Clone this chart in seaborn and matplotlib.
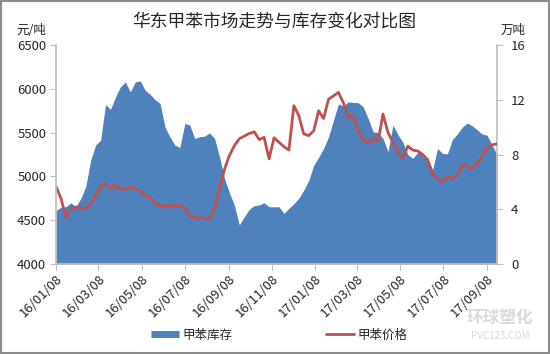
import matplotlib
matplotlib.use("Agg")
import matplotlib.pyplot as plt
import matplotlib.dates as mdates
from matplotlib.lines import Line2D
from matplotlib.patches import Rectangle
import seaborn as sns
import pandas as pd
import numpy as np

# ---------------- data ----------------
start_date = "2016-01-08"
n_weeks = 90
inventory = [3.9, 4.15, 4.18, 4.47, 4.18, 4.79, 5.64, 7.59, 8.69, 9.05,
             11.65, 11.29, 12.2, 12.94, 13.3, 12.58, 13.3, 13.38, 12.7, 12.4,
             12.0, 11.73, 10.0, 9.29, 8.69, 8.52, 10.27, 10.15, 9.17, 9.3,
             9.34, 9.58, 9.17, 7.83, 6.25, 5.2, 4.3, 2.85, 3.45, 4.0,
             4.26, 4.31, 4.47, 4.18, 4.18, 4.18, 3.70, 4.07, 4.4, 4.8,
             5.4, 6.1, 7.2, 7.8, 8.44, 9.29, 10.5, 11.7, 11.55, 11.85,
             11.8, 11.78, 11.48, 10.63, 9.66, 9.6, 9.17, 8.2, 10.15, 9.45,
             8.9, 8.0, 7.72, 8.15, 8.0, 7.59, 6.9, 8.44, 8.08, 8.05,
             9.1, 9.5, 10.0, 10.3, 10.1, 9.8, 9.5, 9.4, 8.7, 8.0]
price = [4886, 4750, 4530, 4620, 4651, 4640, 4633, 4680, 4790, 4890,
         4917, 4860, 4898, 4860, 4850, 4886, 4860, 4830, 4780, 4760,
         4690, 4660, 4665, 4665, 4665, 4665, 4640, 4550, 4530, 4525,
         4520, 4515, 4640, 4860, 5080, 5240, 5350, 5430, 5460, 5490,
         5510, 5420, 5447, 5200, 5440, 5390, 5340, 5300, 5807, 5693,
         5485, 5466, 5520, 5750, 5660, 5880, 5920, 5958, 5840, 5670,
         5693, 5520, 5420, 5380, 5440, 5400, 5712, 5500, 5390, 5280,
         5201, 5345, 5300, 5290, 5250, 5190, 5030, 4970, 4936, 4992,
         4975, 5010, 5130, 5110, 5087, 5150, 5230, 5330, 5360, 5371]
tick_dates = ["2016-01-08", "2016-03-08", "2016-05-08", "2016-07-08",
              "2016-09-08", "2016-11-08", "2017-01-08", "2017-03-08",
              "2017-05-08", "2017-07-08", "2017-09-08"]
left_ticks = [4000, 4500, 5000, 5500, 6000, 6500]
right_ticks = [0, 4, 8, 12, 16]
title = "华东甲苯市场走势与库存变化对比图"
left_unit = "元/吨"
right_unit = "万吨"
inv_label = "甲苯库存"
price_label = "甲苯价格"

dates = pd.date_range(start_date, periods=n_weeks, freq="7D")
df = pd.DataFrame({"date": dates, "inventory": inventory, "price": price})

# ---------------- style ----------------
sns.set_theme(style="white")
plt.rcParams["font.family"] = ["Noto Sans CJK SC", "DejaVu Sans"]
plt.rcParams["axes.unicode_minus"] = False

BLUE = "#4F81BD"
RED = "#C0504D"
GREY = "#BFBFBF"
TXT = "#262626"

fig = plt.figure(figsize=(5.5, 3.54), dpi=100)
ax = fig.add_axes([56 / 550, 1 - 264 / 354, (497 - 56) / 550, (264 - 45) / 354])
ax2 = ax.twinx()

# inventory area (right axis)
ax2.fill_between(df["date"], 0, df["inventory"], color=BLUE, linewidth=0)
ax2.set_ylim(0, 16)
ax2.set_yticks(right_ticks)

# price line (left axis), on top
ax.set_zorder(ax2.get_zorder() + 1)
ax.patch.set_visible(False)
sns.lineplot(data=df, x="date", y="price", ax=ax, color=RED, linewidth=2.0, legend=False)
ax.set_ylim(4000, 6500)
ax.set_yticks(left_ticks)
ax.set_xlim(dates[0], dates[-1])
ax.set_xticks(pd.to_datetime(tick_dates))
ax.xaxis.set_major_formatter(mdates.DateFormatter("%y/%m/%d"))
ax.set_xlabel("")
ax.set_ylabel("")
ax2.set_ylabel("")

for a in (ax, ax2):
    for s in a.spines.values():
        s.set_visible(False)
ax.spines["left"].set_visible(True)
ax.spines["left"].set_color(GREY)
ax.spines["bottom"].set_visible(True)
ax.spines["bottom"].set_color(GREY)
ax2.spines["right"].set_visible(True)
ax2.spines["right"].set_color(GREY)

ax.tick_params(axis="y", which="major", left=True, length=4, width=0.8, color=GREY,
               labelsize=9.5, labelcolor=TXT, pad=3)
ax.tick_params(axis="x", which="major", bottom=True, length=4, width=0.8, color=GREY,
               labelsize=9.5, labelcolor=TXT, pad=2)
ax2.tick_params(axis="y", which="major", right=True, length=4, width=0.8, color=GREY,
                labelsize=9.5, labelcolor=TXT, pad=6)
for lbl in ax.get_xticklabels():
    lbl.set_rotation(45)
    lbl.set_ha("right")
    lbl.set_rotation_mode("anchor")

# texts
fig.text(0.499, 1 - 22 / 354, title, ha="center", va="center", fontsize=12.8, color=TXT)
fig.text(31 / 550, 1 - 30 / 354, left_unit, ha="center", va="center", fontsize=9, color=TXT)
fig.text(513 / 550, 1 - 30 / 354, right_unit, ha="center", va="center", fontsize=9, color=TXT)

# legend
handles = [Line2D([0], [0], color=BLUE, linewidth=5, solid_capstyle="butt"),
           Line2D([0], [0], color=RED, linewidth=2.0)]
fig.legend(handles, [inv_label, price_label], loc="center", bbox_to_anchor=(0.508, 1 - 335 / 354),
           ncol=2, frameon=False, fontsize=9, handlelength=2.2, handletextpad=0.3,
           columnspacing=7.5, labelcolor=TXT)

# watermark
fig.text(500 / 550, 1 - 318 / 354, "环球塑化", ha="center", va="center", fontsize=12,
         color="#d9d9d9", fontweight="bold")
fig.text(500 / 550, 1 - 336 / 354, "PVC123.COM", ha="center", va="center", fontsize=7,
         color="#d9d9d9")

# outer frame
fig.patches.append(Rectangle((0.002, 0.003), 0.996, 0.994, transform=fig.transFigure,
                             fill=False, edgecolor="#8c8c8c", linewidth=1.5))

fig.savefig("out.png", dpi=100)
